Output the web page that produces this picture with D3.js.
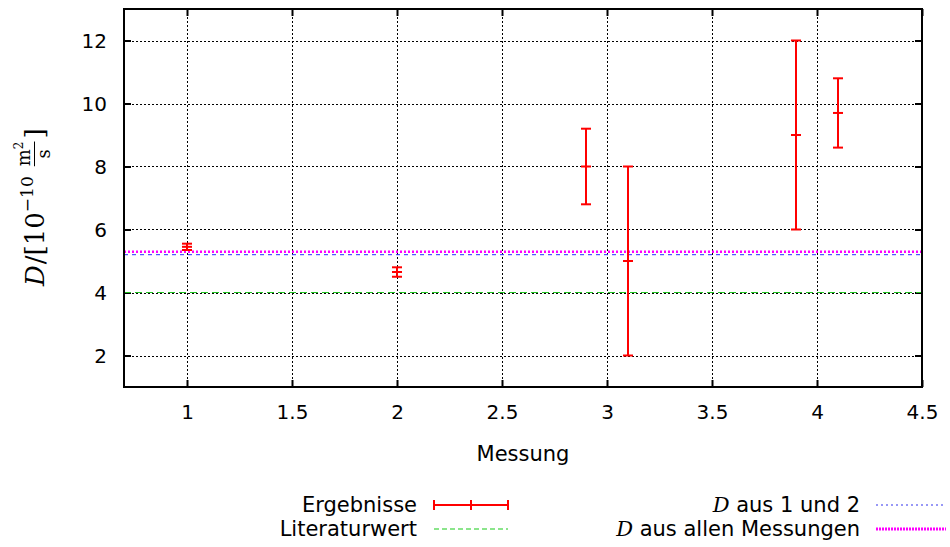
<!DOCTYPE html>
<html>
<head>
<meta charset="utf-8">
<script src="https://cdn.jsdelivr.net/npm/d3@7"></script>
<style>
  html, body { margin: 0; padding: 0; background: #fff; }
  svg { display: block; }
  text { fill: #000; }
</style>
</head>
<body>
<svg id="chart" width="950" height="547"></svg>
<script>
// Measurement results (x position, value, error)
const measX   = [1, 2, 2.9, 3.1, 3.9, 4.1];
const measD   = [5.45, 4.65, 8.0, 5.0, 9.0, 9.7];
const measErr = [0.1, 0.15, 1.2, 3.0, 3.0, 1.1];

// Reference lines
const literaturwert = 4.0;
const dAus12 = 5.2;
const dAlle = 5.29;

// Axis ticks
const xTicks = [1, 1.5, 2, 2.5, 3, 3.5, 4, 4.5];
const yTicks = [2, 4, 6, 8, 10, 12];
const xDomain = [0.7, 4.5];
const yDomain = [1, 13];

const svg = d3.select("#chart");
const m = { left: 124, right: 922, top: 9, bottom: 387 };

const x = d3.scaleLinear().domain(xDomain).range([m.left, m.right]);
const y = d3.scaleLinear().domain(yDomain).range([m.bottom, m.top]);

const SANS = "'DejaVu Sans', sans-serif";
const SERIF = "'DejaVu Serif', 'Liberation Serif', serif";

// Grid
const grid = svg.append("g");
grid.selectAll("line.gx").data(xTicks.filter(t => t < 4.5)).join("line")
  .attr("x1", d => Math.round(x(d)) + 0.5).attr("x2", d => Math.round(x(d)) + 0.5)
  .attr("y1", m.top).attr("y2", m.bottom)
  .attr("stroke", "#000").attr("stroke-width", 1).attr("stroke-dasharray", "2,2");
grid.selectAll("line.gy").data(yTicks).join("line")
  .attr("y1", d => Math.round(y(d)) + 0.5).attr("y2", d => Math.round(y(d)) + 0.5)
  .attr("x1", m.left).attr("x2", m.right)
  .attr("stroke", "#000").attr("stroke-width", 1).attr("stroke-dasharray", "2,2");

// Axes with inward ticks
const axB = svg.append("g").attr("transform", `translate(0,${m.bottom})`)
  .call(d3.axisBottom(x).tickValues(xTicks).tickSize(-7).tickPadding(18)
        .tickFormat(d => String(d)));
const axT = svg.append("g").attr("transform", `translate(0,${m.top})`)
  .call(d3.axisTop(x).tickValues(xTicks).tickSize(-7).tickFormat(""));
const axL = svg.append("g").attr("transform", `translate(${m.left},0)`)
  .call(d3.axisLeft(y).tickValues(yTicks).tickSize(-7).tickPadding(17)
        .tickFormat(d => String(d)));
const axR = svg.append("g").attr("transform", `translate(${m.right},0)`)
  .call(d3.axisRight(y).tickValues(yTicks).tickSize(-7).tickFormat(""));
[axB, axT, axL, axR].forEach(g => {
  g.select(".domain").remove();
  g.selectAll(".tick line").attr("stroke", "#000").attr("stroke-width", 2);
  g.selectAll("text").attr("font-family", SANS).attr("font-size", 20).attr("fill", "#000");
});
axL.selectAll("text").attr("dy", "0.36em");

// Reference lines
const refs = svg.append("g");
refs.append("line").attr("x1", m.left).attr("x2", m.right)
  .attr("y1", y(literaturwert)).attr("y2", y(literaturwert))
  .attr("stroke", "#22c422").attr("stroke-width", 1).attr("stroke-dasharray", "7,4");
refs.append("line").attr("x1", m.left).attr("x2", m.right)
  .attr("y1", y(dAus12)).attr("y2", y(dAus12))
  .attr("stroke", "#2a2aff").attr("stroke-width", 1).attr("stroke-dasharray", "4,4");
refs.append("line").attr("x1", m.left).attr("x2", m.right)
  .attr("y1", y(dAlle)).attr("y2", y(dAlle))
  .attr("stroke", "#ff00ff").attr("stroke-width", 2.5).attr("stroke-dasharray", "2,2");

// Error bars
const red = "#ff0000";
const eb = svg.append("g");
measX.forEach((mx, i) => {
  const cx = x(mx), lo = y(measD[i] - measErr[i]), hi = y(measD[i] + measErr[i]), c = y(measD[i]);
  const gg = eb.append("g").attr("stroke", red).attr("stroke-width", 2);
  gg.append("line").attr("x1", cx).attr("x2", cx).attr("y1", lo).attr("y2", hi);
  [lo, hi, c].forEach(yy => gg.append("line")
    .attr("x1", cx - 5).attr("x2", cx + 5).attr("y1", yy).attr("y2", yy));
});

// Frame
svg.append("rect").attr("x", m.left).attr("y", m.top)
  .attr("width", m.right - m.left).attr("height", m.bottom - m.top)
  .attr("fill", "none").attr("stroke", "#000").attr("stroke-width", 2);

// X axis title
svg.append("text").attr("x", (m.left + m.right) / 2).attr("y", 461)
  .attr("text-anchor", "middle").attr("font-family", SANS).attr("font-size", 21)
  .text("Messung");

// Y axis title: D/[10^-10 m²/s], rotated
const yl = svg.append("g").attr("transform", "translate(44,286) rotate(-90)");
let cur = 0;
function piece(str, opts) {
  const t = yl.append("text").attr("x", cur).attr("y", opts.dy || 0)
    .attr("font-family", SERIF).attr("font-size", opts.size || 26)
    .attr("font-style", opts.italic ? "italic" : "normal").text(str);
  const w = t.node().getComputedTextLength();
  cur += w + (opts.gap || 0);
  return { t, w };
}
piece("D", { italic: true, gap: 1 });
piece("/[10", {});
piece("\u221210", { size: 17, dy: -11, gap: 10 });
// fraction m^2 / s
const fx = cur;
const num = yl.append("text").attr("x", fx).attr("y", -14)
  .attr("font-family", SERIF).attr("font-size", 18);
num.append("tspan").text("m");
num.append("tspan").attr("font-size", 12).attr("dy", -7).text("2");
const nw = num.node().getComputedTextLength();
const den = yl.append("text").attr("x", fx + nw / 2).attr("y", 6)
  .attr("text-anchor", "middle").attr("font-family", SERIF).attr("font-size", 18).text("s");
yl.append("line").attr("x1", fx).attr("x2", fx + nw).attr("y1", -9.5).attr("y2", -9.5)
  .attr("stroke", "#000").attr("stroke-width", 1);
cur = fx + nw + 3;
piece("]", {});

// Legend
const lg = svg.append("g");
function legendText(xr, yb, parts) {
  const t = lg.append("text").attr("x", xr).attr("y", yb).attr("text-anchor", "end")
    .attr("font-family", SANS).attr("font-size", 21);
  parts.forEach(p => t.append("tspan")
    .attr("font-family", p.serif ? SERIF : SANS)
    .attr("font-style", p.serif ? "italic" : "normal").text(p.s));
}
legendText(417, 512, [{ s: "Ergebnisse" }]);
legendText(417, 536, [{ s: "Literaturwert" }]);
legendText(860, 512, [{ s: "D", serif: true }, { s: " aus 1 und 2" }]);
legendText(860, 536, [{ s: "D", serif: true }, { s: " aus allen Messungen" }]);

// Legend samples
const s1 = lg.append("g").attr("stroke", red).attr("stroke-width", 2);
s1.append("line").attr("x1", 434).attr("x2", 508).attr("y1", 505).attr("y2", 505);
[434, 471, 508].forEach(xx => s1.append("line").attr("x1", xx).attr("x2", xx)
  .attr("y1", 500).attr("y2", 510));
lg.append("line").attr("x1", 434).attr("x2", 508).attr("y1", 529).attr("y2", 529)
  .attr("stroke", "#66dd66").attr("stroke-width", 1.5).attr("stroke-dasharray", "5,3");
lg.append("line").attr("x1", 876).attr("x2", 946).attr("y1", 505).attr("y2", 505)
  .attr("stroke", "#3333ee").attr("stroke-width", 1.2).attr("stroke-dasharray", "2,3");
lg.append("line").attr("x1", 876).attr("x2", 946).attr("y1", 529).attr("y2", 529)
  .attr("stroke", "#ff00ff").attr("stroke-width", 3).attr("stroke-dasharray", "2,1");
</script>
</body>
</html>
